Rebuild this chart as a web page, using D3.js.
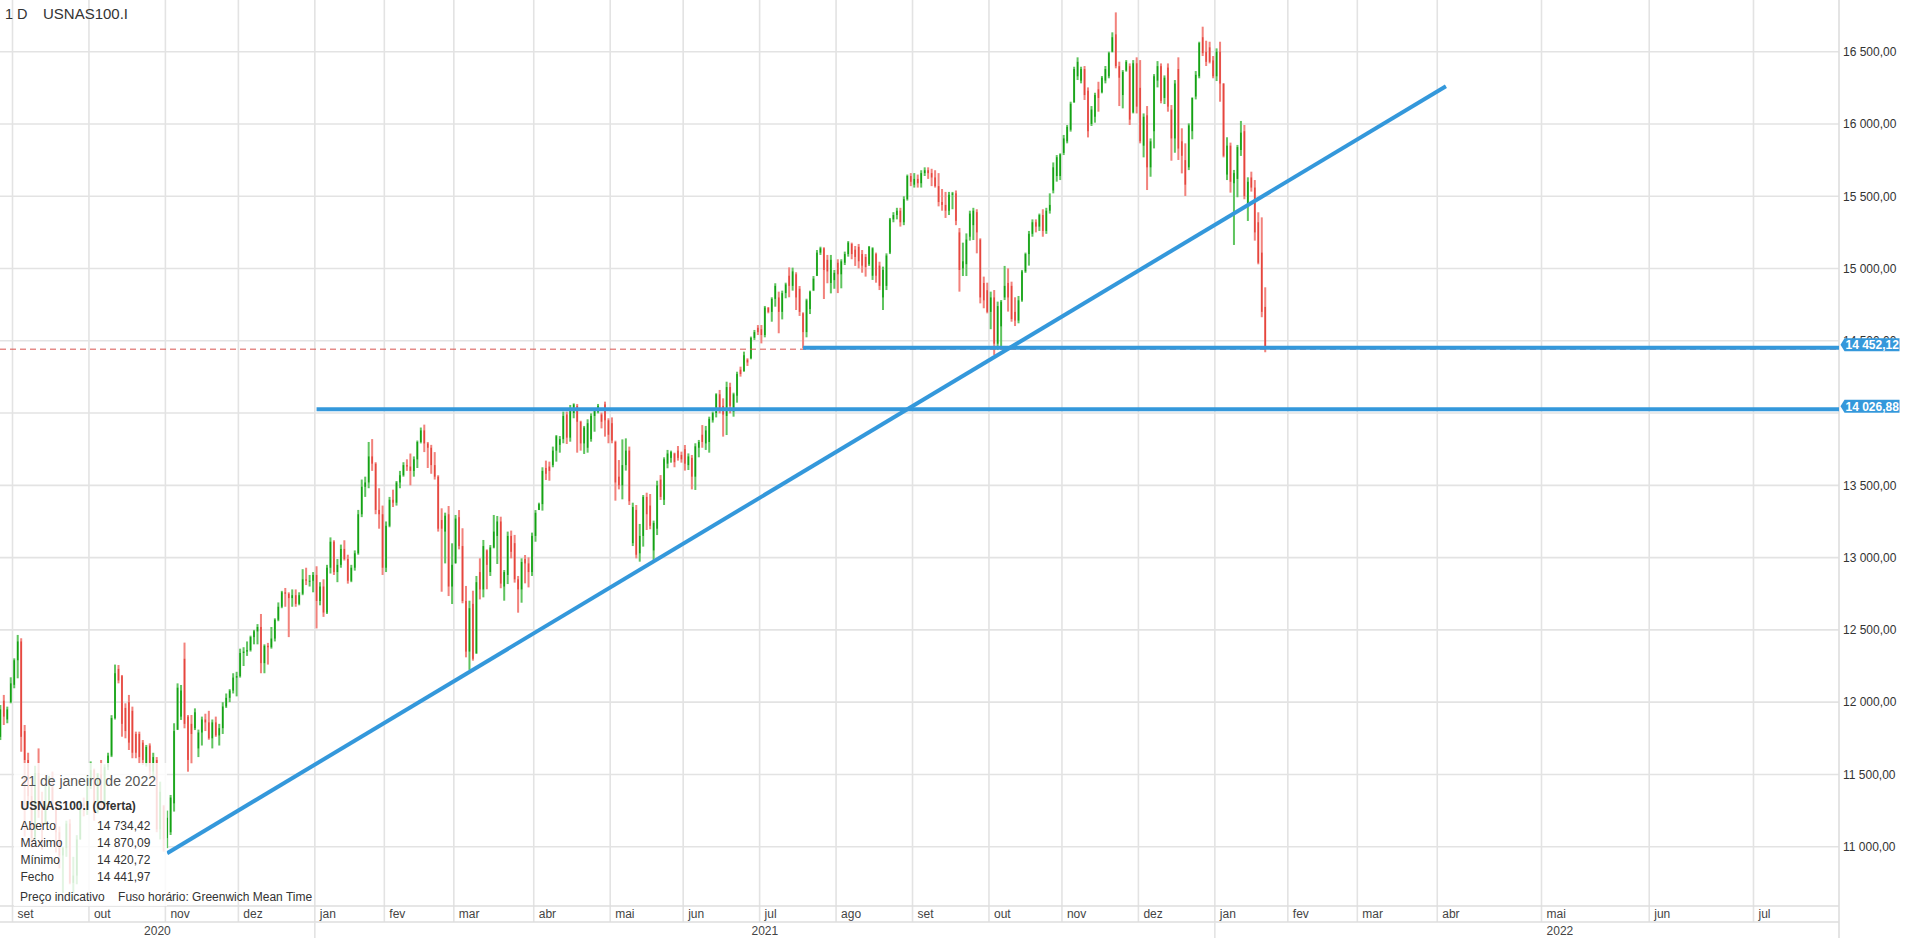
<!DOCTYPE html>
<html><head><meta charset="utf-8">
<script src="https://cdn.jsdelivr.net/npm/d3@7"></script>
<style>
body{margin:0;background:#fff;overflow:hidden}
svg text{font-family:"Liberation Sans",Arial,sans-serif}
</style></head>
<body><svg id="c" width="1905" height="938"></svg>
<script>
// ---------------- DATA ----------------
const symbol = "USNAS100.I";
const period = "1 D";
const firstBarDate = "2020-08-26";               // bars: consecutive weekdays from here
const noBarDays = ["2020-12-25","2021-01-01","2021-12-24"]; // market closed, no bar
// daily bars: [open, high, low, close]
const aug2020 = [[11760,11980,11738,11950],[12010,12050,11842,11900],[11880,11969,11854,11950],[12000,12172,11992,12130]];
const sep2020 = [[12120,12303,12096,12290],[12290,12465,12165,12420],[12420,12442,11657,11760],[11800,11842,11070,11600],[11600,11650,11300,11350],[11350,11420,10990,11060],[11070,11560,11040,11510],[11510,11680,11200,11250],[11250,11380,10980,11140],[11160,11420,11150,11290],[11290,11490,11290,11410],[11410,11520,11260,11270],[11270,11290,10960,11100],[11100,11140,10850,10940],[10940,11000,10680,10990],[10990,11180,10930,11160],[11160,11190,10740,10750],[10750,10930,10680,10800],[10800,11080,10740,11050],[11050,11320,11050,11300],[11300,11340,11210,11280],[11280,11490,11220,11420]];
const oct2020 = [[11420,11590,11400,11530],[11530,11540,11180,11240],[11240,11510,11230,11500],[11500,11600,11260,11300],[11300,11570,11290,11550],[11550,11650,11530,11630],[11630,11910,11620,11890],[11890,12260,11880,12200],[12230,12257,12130,12150],[12180,12188,11761,11850],[11960,11992,11750,11800],[12000,12050,11669,11720],[11940,11969,11612,11650],[11780,11796,11612,11650],[11780,11796,11577,11620],[11720,11738,11565,11600],[11570,11704,11554,11690],[11700,11715,11485,11520],[11520,11650,11480,11620],[11600,11620,11100,11120],[11120,11450,11050,11380],[11280,11289,10966,11050]];
const nov2020 = [[11060,11250,10990,11200],[11100,11358,11081,11340],[11300,11854,11243,11800],[11810,12130,11807,12100],[11900,12119,11877,12080],[12300,12412,11819,11850],[11900,11911,11519,11600],[11850,11911,11577,11780],[11820,11957,11807,11930],[11680,11810,11620,11790],[11790,11900,11700,11880],[11880,11920,11800,11860],[11860,11940,11740,11750],[11750,11880,11680,11860],[11860,11900,11760,11770],[11770,11850,11700,11820],[11820,12000,11780,11970],[11970,12060,11960,12030],[12030,12090,12000,12080],[12080,12200,12060,12170],[12170,12210,12040,12180]];
const dec2020 = [[12180,12370,12170,12340],[12340,12380,12250,12350],[12350,12420,12320,12360],[12360,12460,12350,12450],[12450,12500,12400,12490],[12490,12540,12400,12520],[12520,12610,12200,12270],[12270,12400,12200,12390],[12390,12410,12260,12380],[12380,12520,12370,12440],[12440,12580,12420,12570],[12570,12690,12560,12660],[12660,12770,12650,12760],[12760,12790,12660,12750],[12750,12760,12450,12720],[12720,12780,12660,12740],[12740,12780,12660,12680],[12680,12760,12670,12740],[12750,12920,12740,12850],[12850,12930,12810,12840],[12840,12880,12800,12840],[12840,12900,12760,12880]];
const jan2021 = [[12880,12940,12510,12700],[12700,12830,12670,12800],[12800,12850,12590,12620],[12620,12950,12610,12930],[12930,13140,12890,13110],[13110,13120,12880,12900],[12900,12990,12830,12950],[12950,13090,12930,13060],[13060,13120,12980,12990],[12990,13020,12820,12840],[12840,12950,12830,12930],[12930,13050,12910,13030],[13030,13330,13020,13300],[13300,13540,13280,13490],[13490,13560,13420,13520],[13520,13800,13480,13700],[13700,13820,13600,13650],[13650,13660,13300,13330],[13330,13480,13200,13300],[13300,13360,12880,12930]];
const feb2021 = [[12930,13250,12900,13220],[13220,13420,13210,13400],[13400,13470,13350,13380],[13380,13530,13360,13520],[13520,13600,13480,13570],[13570,13660,13560,13640],[13640,13680,13600,13630],[13630,13720,13500,13600],[13600,13700,13560,13680],[13680,13810,13620,13800],[13800,13900,13790,13880],[13880,13920,13730,13790],[13790,13800,13620,13760],[13760,13780,13580,13640],[13640,13730,13540,13560],[13560,13570,13180,13200],[13260,13341,12764,13200],[13180,13311,12960,13290],[13300,13357,12734,12800],[12800,13099,12679,12950]];
const mar2021 = [[12960,13295,12960,13270],[13280,13329,13057,13080],[13080,13203,12684,12700],[12700,12804,12310,12350],[12350,12702,12223,12650],[12680,12771,12287,12300],[12340,12873,12333,12830],[12900,12995,12711,12780],[12780,13122,12725,13080],[13050,13057,12781,12950],[12900,13087,12873,13070],[13070,13295,13064,13180],[13150,13288,12956,13250],[13250,13283,12788,12820],[12800,12914,12702,12900],[12880,13180,12817,13150],[13150,13187,12995,13040],[13100,13157,12827,12850],[12850,12873,12619,12780],[12780,12995,12688,12970],[12990,13018,12822,12960],[12960,13002,12794,12900],[12900,13173,12873,13150]];
const apr2021 = [[13150,13329,13110,13310],[13330,13380,13329,13370],[13370,13625,13325,13600],[13620,13671,13537,13580],[13630,13664,13532,13600],[13640,13768,13625,13740],[13740,13848,13664,13840],[13780,13841,13726,13820],[13820,14010,13791,13980],[13990,14010,13786,13830],[13830,14056,13802,14030],[14000,14067,13964,14060],[14050,14063,13726,13940],[13940,13947,13740,13790],[13790,13911,13717,13900],[13760,13957,13726,13930],[13820,13998,13802,13980],[13980,14026,13871,14020],[14010,14063,13998,14050],[13990,14003,13894,13940],[14060,14079,13837,13950],[13950,13964,13791,13850]];
const may2021 = [[13930,13970,13791,13810],[13800,13809,13394,13520],[13560,13675,13472,13500],[13500,13818,13403,13640],[13640,13825,13602,13740],[13740,13768,13364,13390],[13100,13380,13080,13350],[13330,13364,12995,13020],[13030,13233,12972,13150],[13150,13433,13076,13420],[13420,13449,13191,13300],[13360,13440,13196,13220],[13050,13256,12984,13240],[13200,13532,13156,13500],[13540,13571,13399,13420],[13400,13694,13364,13680],[13650,13745,13618,13720],[13690,13740,13657,13730],[13720,13726,13625,13660],[13740,13772,13671,13690],[13710,13733,13657,13680]];
const jun2021 = [[13750,13779,13602,13650],[13640,13721,13606,13700],[13690,13710,13472,13560],[13560,13791,13468,13770],[13760,13814,13694,13800],[13850,13917,13760,13800],[13790,13911,13745,13880],[13800,13975,13726,13960],[13950,14010,13934,14000],[14000,14137,13970,14130],[14130,14160,13998,14030],[14050,14102,13837,13990],[13980,14217,13848,14180],[14180,14210,13998,14050],[14010,14141,13975,14130],[14120,14286,14072,14270],[14300,14321,14252,14270],[14290,14425,14286,14400],[14370,14379,14326,14350],[14380,14529,14372,14520],[14520,14575,14506,14560],[14590,14609,14540,14560]];
const jul2021 = [[14580,14609,14482,14540],[14540,14741,14524,14730],[14730,14732,14690,14700],[14700,14801,14632,14790],[14790,14898,14736,14880],[14800,14840,14552,14700],[14700,14847,14648,14830],[14830,14902,14794,14890],[14950,15008,14801,14880],[14880,15006,14847,14980],[14960,14974,14713,14800],[14860,14879,14672,14700],[14690,14697,14448,14560],[14560,14791,14524,14780],[14720,14847,14685,14840],[14850,14948,14844,14930],[14950,15128,14948,15110],[15110,15151,15094,15140],[15140,15147,14789,14990],[15060,15094,14898,14980],[14900,15094,14828,15060],[14920,14990,14860,14970]];
const aug2021 = [[15040,15064,14830,14960],[14960,15064,14863,15050],[15040,15117,15024,15100],[15100,15190,15082,15180],[15170,15179,15064,15100],[15130,15156,15018,15080],[15150,15170,15001,15050],[15100,15128,14971,15020],[15080,15100,14944,15010],[15030,15156,15018,15150],[14950,15147,14921,15140],[15100,15110,14902,14950],[15020,15047,14851,14880],[14800,15013,14713,14990],[14880,15105,14851,15090],[15110,15350,15100,15340],[15340,15390,15320,15370],[15370,15420,15340,15400],[15400,15420,15290,15320],[15320,15500,15300,15480],[15480,15650,15470,15640],[15640,15660,15570,15600]];
const sep2021 = [[15580,15660,15560,15620],[15620,15650,15560,15590],[15590,15680,15560,15660],[15660,15700,15640,15680],[15680,15700,15620,15660],[15660,15690,15570,15630],[15630,15680,15560,15570],[15570,15660,15430,15460],[15460,15550,15400,15440],[15440,15530,15350,15400],[15400,15530,15370,15510],[15510,15530,15410,15520],[15520,15540,15300,15330],[15250,15280,14840,14990],[15000,15179,14948,15050],[15030,15243,14948,15200],[15220,15400,15193,15380],[15300,15420,15197,15400],[15390,15410,15105,15250],[15200,15209,14759,14800],[14900,14944,14725,14780],[14850,14902,14690,14700]];
const oct2021 = [[14700,14840,14580,14800],[14800,14851,14402,14480],[14480,14771,14436,14740],[14600,14782,14455,14770],[14800,15018,14782,14880],[14900,15001,14702,14800],[14880,14909,14632,14650],[14700,14801,14602,14640],[14640,14810,14621,14780],[14780,14990,14770,14980],[14980,15110,14970,15100],[15100,15260,15020,15240],[15240,15340,15220,15320],[15320,15340,15250,15290],[15290,15380,15260,15370],[15370,15410,15220,15260],[15260,15420,15240,15400],[15400,15520,15380,15440],[15540,15734,15520,15700],[15640,15785,15601,15770],[15640,15797,15612,15790]];
const nov2021 = [[15800,15924,15785,15900],[15880,15993,15866,15980],[15960,16154,15947,16140],[16150,16396,16147,16380],[16330,16461,16304,16430],[16300,16396,16281,16380],[16380,16401,16166,16200],[16230,16253,15907,15950],[16000,16124,15986,16100],[16050,16216,16009,16200],[16240,16292,16085,16180],[16220,16332,16212,16320],[16300,16401,16281,16380],[16330,16500,16316,16490],[16500,16634,16495,16600],[16620,16772,16385,16400],[16400,16431,16124,16320],[16200,16373,16108,16360],[16370,16442,16362,16430],[16400,16419,15993,16030],[16080,16442,16073,16420],[16420,16461,16073,16120]];
const dec2021 = [[16250,16442,15866,15880],[15850,16073,15769,16050],[16060,16124,15543,15700],[15700,15900,15635,15880],[15950,16345,15831,16330],[16300,16435,16253,16400],[16400,16419,16143,16160],[16180,16336,16138,16320],[16390,16419,16085,16120],[16100,16131,15746,15900],[15900,16304,15801,16280],[16380,16461,15751,15830],[15880,15970,15658,15780],[15750,15866,15502,15580],[15700,16004,15681,15990],[15950,16184,15894,16180],[16190,16366,16170,16340],[16330,16569,16316,16560],[16600,16673,16470,16490],[16500,16576,16401,16430],[16530,16569,16419,16430],[16440,16470,16316,16330]];
const jan2022 = [[16330,16523,16297,16500],[16500,16569,16154,16280],[16280,16281,15769,15780],[15650,15908,15612,15850],[15850,15871,15525,15600],[15590,15682,15163,15660],[15620,15855,15493,15840],[15820,16021,15779,15940],[15950,15993,15479,15500],[15450,15631,15329,15600],[15630,15670,15532,15560],[15560,15612,15193,15250],[15320,15389,15029,15040],[15110,15354,14663,14700],[14734.42,14870.09,14420.72,14441.97]];

const yTicks = [11000,11500,12000,12500,13000,13500,14000,14500,15000,15500,16000,16500];
const hiddenTicks = [14000]; // covered by the level badge in the reference
const monthNames = ["jan","fev","mar","abr","mai","jun","jul","ago","set","out","nov","dez"];
const levels = [{price:14452.12, from:"2021-07-19"},{price:14026.88, from:"2021-01-04"}];
const trendline = [{date:"2020-11-02", price:10955},{date:"2022-04-03", price:16261}];
const infoDate = "21 de janeiro de 2022";
const infoTitle = "USNAS100.I (Oferta)";
const infoLabels = ["Aberto","Máximo","Mínimo","Fecho"];
const infoValues = ["14 734,42","14 870,09","14 420,72","14 441,97"];
const infoFoot = "Preço indicativo    Fuso horário: Greenwich Mean Time";

// ---------------- SLOTS (time axis) ----------------
const bars = [].concat(aug2020,sep2020,oct2020,nov2020,dec2020,jan2021,feb2021,mar2021,apr2021,may2021,jun2021,jul2021,aug2021,sep2021,oct2021,nov2021,dec2021,jan2022);
const iso = d => d.toISOString().slice(0,10);
const slots = [];
(function(){
  const p = firstBarDate.split("-").map(Number);
  let t = Date.UTC(p[0],p[1]-1,p[2]);
  const calFrom = Date.UTC(2022,3,1), end = Date.UTC(2022,8,30);
  while (t <= end){
    const d = new Date(t), wd = d.getUTCDay();
    if (t >= calFrom || (wd!==0 && wd!==6 && !noBarDays.includes(iso(d)))) slots.push(d);
    t += 86400000;
  }
})();
const slotIndex = {}; slots.forEach((d,i)=>slotIndex[iso(d)]=i);

// ---------------- LAYOUT ----------------
const W=1905, H=938, plotR=1839, plotB=906, monthRowB=922, slotW=3.475, firstSlot=0.403;
const x = d3.scaleLinear().domain([firstSlot, firstSlot + plotR/slotW]).range([0, plotR]);
const y = d3.scaleLinear().domain([11000,16500]).range([846.7,51.7]);
const fmt = d3.formatLocale({decimal:",", thousands:"\u00a0", grouping:[3], currency:["",""]}).format(",.2f");

const svg = d3.select("#c");
svg.append("rect").attr("width",W).attr("height",H).attr("fill","#fff");
svg.append("defs").append("clipPath").attr("id","plot").append("rect").attr("x",0).attr("y",0).attr("width",plotR).attr("height",plotB);

const grid = svg.append("g").attr("stroke","#e3e3e3").attr("stroke-width",1.6);
grid.selectAll("line.h").data(yTicks).join("line").attr("class","h")
  .attr("x1",0).attr("x2",plotR).attr("y1",d=>y(d)).attr("y2",d=>y(d));
const monthStarts = [];
slots.forEach((d,i)=>{ if(i>0 && d.getUTCMonth()!==slots[i-1].getUTCMonth()) monthStarts.push({i, m:d.getUTCMonth(), yr:d.getUTCFullYear()}); });
const visibleMonths = monthStarts.filter(m=>x(m.i) < plotR-2);
grid.selectAll("line.v").data(visibleMonths).join("line").attr("class","v")
  .attr("x1",d=>x(d.i)).attr("x2",d=>x(d.i)).attr("y1",0).attr("y2",monthRowB);
svg.append("g").attr("stroke","#dedede").attr("stroke-width",1.6).call(g=>{
  g.append("line").attr("x1",0).attr("x2",plotR).attr("y1",plotB).attr("y2",plotB);
  g.append("line").attr("x1",0).attr("x2",plotR).attr("y1",monthRowB).attr("y2",monthRowB);
  g.append("line").attr("x1",plotR).attr("x2",plotR).attr("y1",0).attr("y2",H);
});
const yearStarts = visibleMonths.filter(m=>m.m===0);
svg.append("g").attr("stroke","#e3e3e3").attr("stroke-width",1.6)
  .selectAll("line").data(yearStarts).join("line")
  .attr("x1",d=>x(d.i)).attr("x2",d=>x(d.i)).attr("y1",monthRowB).attr("y2",H);

svg.append("g").selectAll("text").data(visibleMonths).join("text")
  .attr("x",d=>x(d.i)+5).attr("y",918).attr("font-size",12).attr("fill","#444")
  .text(d=>monthNames[d.m]);
const years = [2020,2021,2022].map(yr=>{
  const s = yearStarts.find(m=>m.yr===yr);
  const e = yearStarts.find(m=>m.yr===yr+1);
  const x0 = s? x(s.i):0, x1 = e? x(e.i): W;
  return {yr, cx:(Math.max(0,x0)+Math.min(W,x1))/2};
});
svg.append("g").selectAll("text").data(years).join("text")
  .attr("x",d=>d.cx).attr("y",935).attr("text-anchor","middle").attr("font-size",12).attr("fill","#444")
  .text(d=>d.yr);

const ax = svg.append("g").attr("transform",`translate(${plotR},0)`)
  .call(d3.axisRight(y).tickValues(yTicks.filter(t=>!hiddenTicks.includes(t))).tickFormat(fmt).tickSize(0).tickPadding(4));
ax.select(".domain").remove();
ax.selectAll("text").attr("font-size",12).attr("fill","#333").attr("font-family","'Liberation Sans',Arial,sans-serif");

// ---------------- BARS ----------------
const green = {light:"#5fc45f", dark:"#14a114"}, red = {light:"#f2827c", dark:"#e5463e"};
const plot = svg.append("g").attr("clip-path","url(#plot)");
const bg = plot.selectAll("g.bar").data(bars).join("g").attr("class","bar");
bg.append("rect")
  .attr("x",(d,i)=>x(i+0.5)-1).attr("width",2)
  .attr("y",d=>y(d[1])).attr("height",d=>Math.max(1,y(d[2])-y(d[1])))
  .attr("fill",d=>d[3]>=d[0]?green.light:red.light);
bg.append("rect")
  .attr("x",(d,i)=>x(i+0.5)-0.75).attr("width",1.5)
  .attr("y",d=>y(Math.max(d[0],d[3]))).attr("height",d=>Math.max(1,Math.abs(y(d[0])-y(d[3]))))
  .attr("fill",d=>d[3]>=d[0]?green.dark:red.dark);

// ---------------- DRAWINGS ----------------
const blue = "#3498db";
const last = bars[bars.length-1][3];
plot.append("line").attr("x1",0).attr("x2",plotR).attr("y1",y(last)).attr("y2",y(last))
  .attr("stroke","#d9534f").attr("stroke-width",1).attr("stroke-dasharray","6,4");
plot.selectAll("line.lvl").data(levels).join("line").attr("class","lvl")
  .attr("x1",d=>x(slotIndex[d.from]+0.5)).attr("x2",plotR)
  .attr("y1",d=>y(d.price)).attr("y2",d=>y(d.price))
  .attr("stroke",blue).attr("stroke-width",4);
plot.append("line")
  .attr("x1",x(slotIndex[trendline[0].date]+0.5)).attr("y1",y(trendline[0].price))
  .attr("x2",x(slotIndex[trendline[1].date]+0.5)).attr("y2",y(trendline[1].price))
  .attr("stroke",blue).attr("stroke-width",4).attr("stroke-linecap","butt");

const badge = svg.append("g").selectAll("g").data(levels).join("g")
  .attr("transform",d=>`translate(${plotR+1.5},${y(d.price)-3})`);
badge.append("path").attr("d","M0,0 L4,-6.5 L59,-6.5 L59,6.5 L4,6.5 Z").attr("fill",blue);
badge.append("text").attr("x",5).attr("y",4.4).attr("font-size",12).attr("font-weight","bold")
  .attr("fill","#fff").text(d=>fmt(d.price));

// ---------------- TEXTS ----------------
svg.append("text").attr("x",5).attr("y",18.5).attr("font-size",14.5).attr("fill","#333").text(period);
svg.append("text").attr("x",43).attr("y",18.5).attr("font-size",15).attr("fill","#333").text(symbol);

const box = svg.append("g");
box.append("rect").attr("x",14).attr("y",763).attr("width",153).attr("height",plotB-763)
  .attr("fill","#fff").attr("fill-opacity",0.82);
box.append("text").attr("x",20.5).attr("y",786).attr("font-size",14).attr("fill","#555").text(infoDate);
box.append("text").attr("x",20.5).attr("y",809.5).attr("font-size",12).attr("font-weight","bold").attr("fill","#333").text(infoTitle);
box.selectAll("text.lab").data(infoLabels).join("text").attr("class","lab")
  .attr("x",20.5).attr("y",(d,i)=>829.5+i*17.2).attr("font-size",12).attr("fill","#333").text(d=>d);
box.selectAll("text.val").data(infoValues).join("text").attr("class","val")
  .attr("x",97).attr("y",(d,i)=>829.5+i*17.2).attr("font-size",12).attr("fill","#333").text(d=>d);
box.append("text").attr("x",20).attr("y",901).attr("font-size",12).attr("fill","#333")
  .style("white-space","pre").text(infoFoot);
</script>
</body></html>
